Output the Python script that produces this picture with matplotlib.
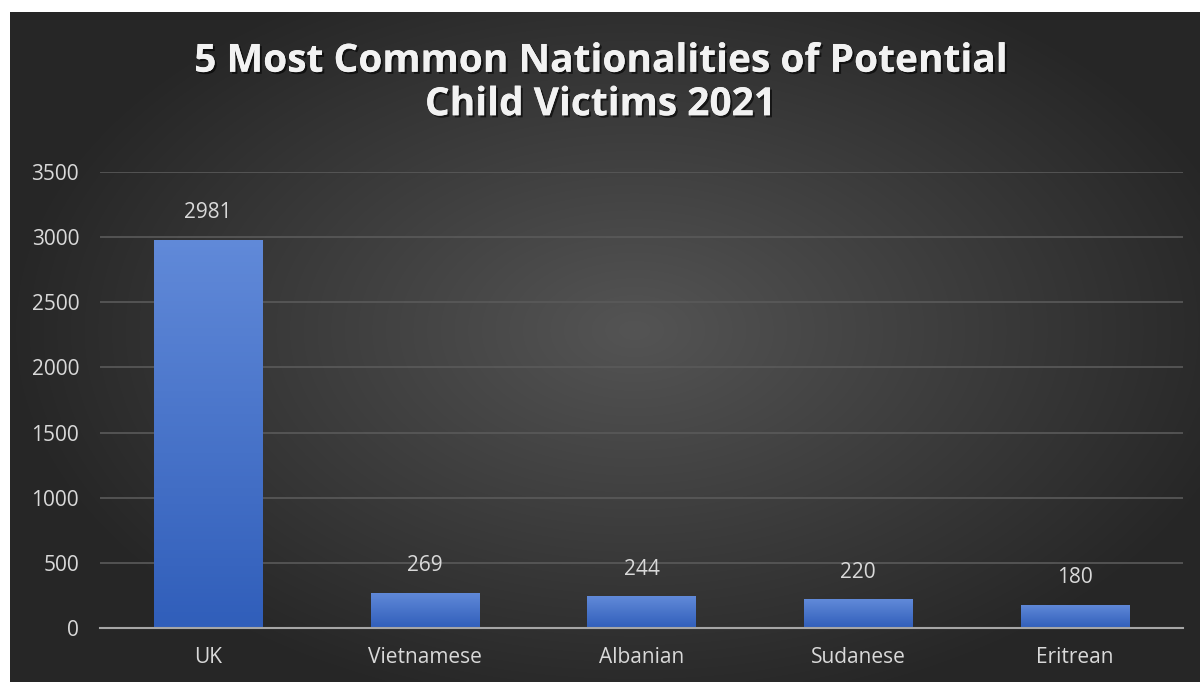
import numpy as np
import matplotlib.pyplot as plt
import matplotlib.patheffects as pe

categories = ["UK", "Vietnamese", "Albanian", "Sudanese", "Eritrean"]
values = [2981, 269, 244, 220, 180]
yticks = [0, 500, 1000, 1500, 2000, 2500, 3000, 3500]
title = "5 Most Common Nationalities of Potential\nChild Victims 2021"

plt.rcParams['font.family'] = ['Open Sans', 'DejaVu Sans']

fig = plt.figure(figsize=(12, 6.82), dpi=100, facecolor="white")

# dark radial background panel
bg = fig.add_axes([10 / 1200, 0, 1190 / 1200, 670 / 682])
yy, xx = np.mgrid[-1:1:300j, -1:1:500j]
r = np.sqrt(((xx - 0.05) / 1.0) ** 2 + ((yy + 0.05) / 1.1) ** 2)
shade = np.clip(0.33 - 0.17 * r, 0.15, 0.33)
img = np.dstack([shade, shade, shade])
bg.imshow(img, aspect="auto", extent=[0, 1, 0, 1], interpolation="bicubic")
bg.set_axis_off()

ax = fig.add_axes([100 / 1200, (682 - 628) / 682, 1083 / 1200, 456 / 682])
ax.patch.set_alpha(0)
x = np.arange(len(categories))
bars = ax.bar(x, values, width=0.5, color="#4472c4", zorder=2)

# vertical blue gradient inside each bar
grad = np.linspace(0, 1, 100).reshape(-1, 1)
top = np.array([0.38, 0.54, 0.85])
bottom = np.array([0.19, 0.37, 0.73])
cols = bottom + (top - bottom) * grad
cols = cols.reshape(100, 1, 3)
for b in bars:
    x0, w, h = b.get_x(), b.get_width(), b.get_height()
    b.set_facecolor("none")
    im = ax.imshow(cols, extent=[x0, x0 + w, 0, h], origin="lower",
                   aspect="auto", zorder=3)
    im.set_clip_path(b)

for xi, v in zip(x, values):
    ax.annotate(str(v), (xi, v), xytext=(0, 12), textcoords="offset points",
                ha="center", va="bottom", fontsize=15, color="#d9d9d9")

ax.set_xlim(-0.5, len(categories) - 0.5)
ax.set_ylim(0, 3500)
ax.set_yticks(yticks)
ax.set_xticks(x)
ax.set_xticklabels(categories)
ax.tick_params(axis="both", length=0, colors="#d9d9d9", labelsize=15)
ax.tick_params(axis="x", pad=14)
ax.tick_params(axis="y", pad=15)
ax.grid(axis="y", color="#5a5a5a", linewidth=1.2, zorder=0)
for s in ["top", "right", "left"]:
    ax.spines[s].set_visible(False)
ax.spines["bottom"].set_color("#a6a6a6")
ax.spines["bottom"].set_linewidth(1.5)
ax.spines["bottom"].set_zorder(4)

fig.text(0.5, 1 - 83 / 682, title, ha="center", va="center", fontsize=28,
         fontweight="bold", color="#f2f2f2", linespacing=1.15,
         path_effects=[pe.withSimplePatchShadow(offset=(1.5, -1.5),
                                                shadow_rgbFace="black",
                                                alpha=0.6),
                       pe.Normal()])

fig.savefig("out.png", dpi=100, facecolor=fig.get_facecolor())
